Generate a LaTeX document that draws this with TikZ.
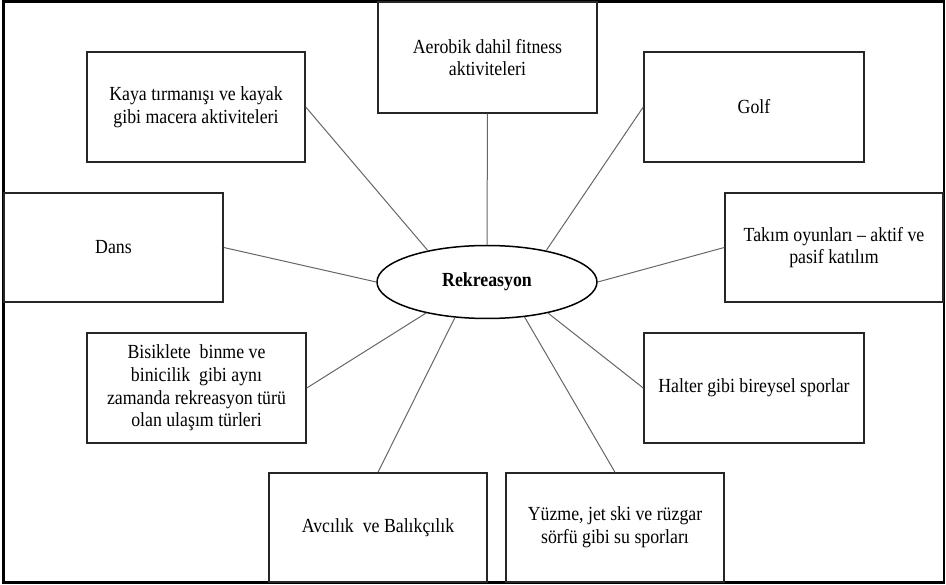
\documentclass[tikz,border=0pt]{standalone}
\usepackage{fontspec}
\setmainfont{Liberation Serif}[FakeStretch=0.89]
\usetikzlibrary{shapes.geometric}
\begin{document}
\begin{tikzpicture}[x=0.6pt,y=-0.6pt,
  box/.style={draw=black!85, line width=0.9pt, rectangle, inner sep=0pt, align=center,
    font=\fontsize{12}{13.6}\selectfont},
  link/.style={draw=black!60, line width=0.6pt},
  hub/.style={draw=black, line width=0.9pt, ellipse, inner sep=0pt,
    minimum width=220*0.6pt, minimum height=73*0.6pt, font=\fontsize{12}{13.6}\selectfont\bfseries}]
\useasboundingbox (0,0) rectangle (946,585);
\draw[line width=1.3pt] (3.5,1.5) rectangle (944,582.5);
\node[hub] (c) at (487,282) {Rekreasyon};
\node[box, minimum width=218*0.6pt, minimum height=110*0.6pt] (kaya) at (196,107) {Kaya tırmanışı ve kayak\\gibi macera aktiviteleri};
\node[box, minimum width=219*0.6pt, minimum height=111*0.6pt] (aero) at (487.5,57.5) {Aerobik dahil fitness\\aktiviteleri};
\node[box, minimum width=220*0.6pt, minimum height=110*0.6pt] (golf) at (754,107) {Golf};
\node[box, minimum width=219*0.6pt, minimum height=109*0.6pt] (dans) at (113.5,247.5) {Dans};
\node[box, minimum width=218*0.6pt, minimum height=109*0.6pt] (takim) at (834,247.5) {Takım oyunları – aktif ve\\pasif katılım};
\node[box, minimum width=219*0.6pt, minimum height=110*0.6pt] (bisik) at (196.5,388) {Bisiklete\ \ binme ve\\binicilik\ \ gibi aynı\\zamanda rekreasyon türü\\olan ulaşım türleri};
\node[box, minimum width=220*0.6pt, minimum height=110*0.6pt] (halter) at (754,388) {Halter gibi bireysel sporlar};
\node[box, minimum width=218*0.6pt, minimum height=109*0.6pt] (avci) at (378,527.5) {Avcılık\ \ ve Balıkçılık};
\node[box, minimum width=218*0.6pt, minimum height=109*0.6pt] (yuzme) at (615,527.5) {Yüzme, jet ski ve rüzgar\\sörfü gibi su sporları};
\draw[link] (aero.south) -- (c.90);
\draw[link] (kaya.east) -- (c.152);
\draw[link] (golf.west) -- (c.28);
\draw[link] (dans.east) -- (c.180);
\draw[link] (takim.west) -- (c.0);
\draw[link] (bisik.east) -- (c.207);
\draw[link] (halter.west) -- (c.333);
\draw[link] (avci.north) -- (c.228);
\draw[link] (yuzme.north) -- (c.317);
\end{tikzpicture}
\end{document}
